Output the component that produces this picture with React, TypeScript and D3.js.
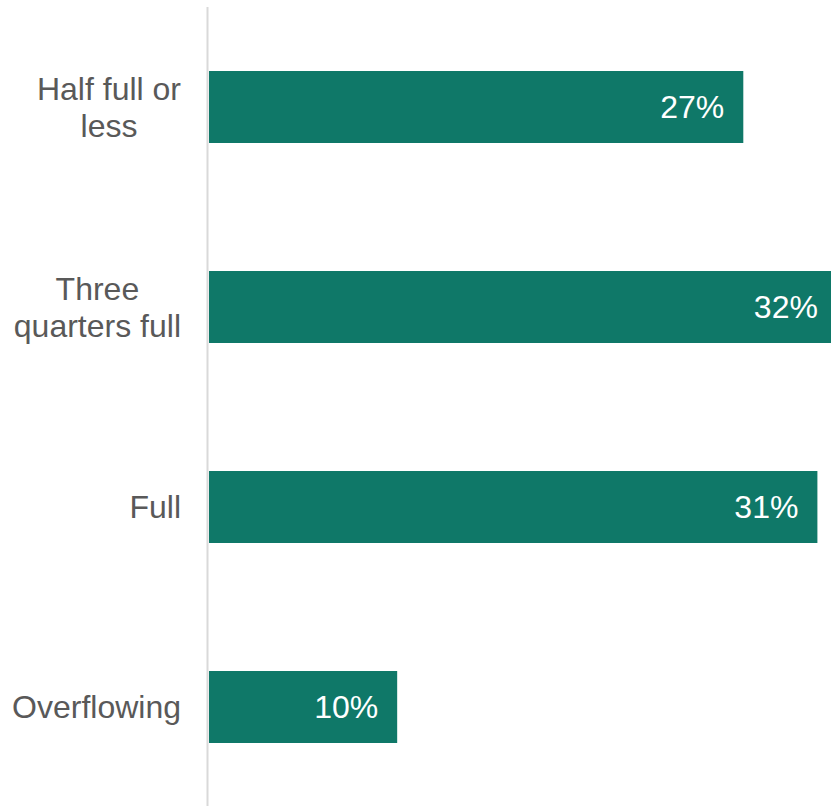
import React, { useEffect, useRef } from "react";
import * as d3 from "d3";

const categories = ["Half full or less", "Three quarters full", "Full", "Overflowing"];
const categoryLines = [["Half full or", "less"], ["Three", "quarters full"], ["Full"], ["Overflowing"]];
const values = [27.4, 32.2, 31.2, 9.65];
const valueLabels = ["27%", "32%", "31%", "10%"];

const W = 831;
const H = 806;

export default function App() {
  const ref = useRef<SVGSVGElement>(null);
  useEffect(() => {
    const svg = d3.select(ref.current);
    svg.selectAll("*").remove();
    const x0 = 209;
    const x = d3.scaleLinear().domain([0, 32]).range([x0, x0 + 32 * 19.5]);
    const y = d3.scaleBand<string>().domain(categories).range([7, 807]).paddingInner(0.64).paddingOuter(0.32);
    const font = "'Liberation Sans', Arial, sans-serif";
    const fs = 32;

    svg.selectAll("rect.bar")
      .data(categories)
      .join("rect")
      .attr("class", "bar")
      .attr("x", x0)
      .attr("y", (d) => y(d)!)
      .attr("height", y.bandwidth())
      .attr("width", (d, i) => x(values[i]) - x0)
      .attr("fill", "#0f7868");

    svg.append("line")
      .attr("x1", 207.5).attr("x2", 207.5)
      .attr("y1", 7).attr("y2", 806)
      .attr("stroke", "#d9d9d9").attr("stroke-width", 2);

    categories.forEach((c, i) => {
      const cy = y(c)! + y.bandwidth() / 2;
      const lines = categoryLines[i];
      const g = svg.append("g");
      const texts = lines.map((l, j) =>
        g.append("text")
          .attr("y", cy + (j - (lines.length - 1) / 2) * 37 + 11)
          .attr("font-family", font)
          .attr("font-size", fs)
          .attr("fill", "#595959")
          .attr("text-anchor", "middle")
          .text(l)
      );
      const maxW = d3.max(texts, (t) => (t.node() as SVGTextElement).getComputedTextLength()) || 0;
      const cx = 181 - maxW / 2;
      texts.forEach((t) => t.attr("x", cx));

      svg.append("text")
        .attr("x", Math.min(x(values[i]), W + 6) - 19)
        .attr("y", cy + 11)
        .attr("font-family", font)
        .attr("font-size", fs)
        .attr("fill", "#ffffff")
        .attr("text-anchor", "end")
        .text(valueLabels[i]);
    });
  }, []);
  return (
    <svg
      ref={ref}
      width={W}
      height={H}
      style={{ position: "absolute", left: 0, top: 0, background: "#fff" }}
    />
  );
}
